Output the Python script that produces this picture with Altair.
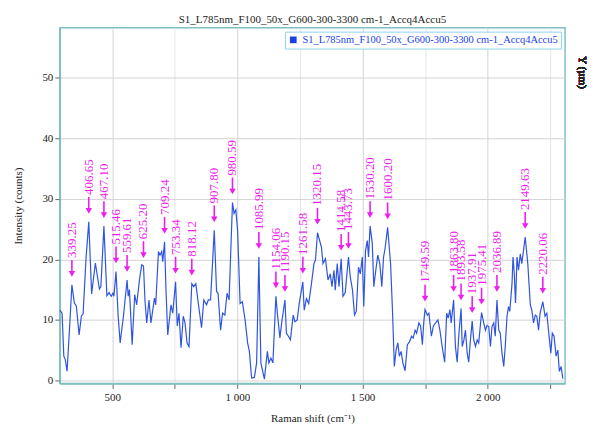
import altair as alt
import pandas as pd

# ---------------- data ----------------
shift = [291, 300, 307, 313, 320, 331, 339.25, 349, 357, 368, 377, 384, 396, 406.65, 418, 433, 449, 455, 467.1,
         479, 488, 496, 503, 507, 515.46, 524, 532, 545, 559.61, 564, 569, 580, 590, 598, 609, 618, 625.2, 631,
         638, 647, 655, 669, 674, 685, 691, 698, 702, 709.24, 715, 722, 735, 742, 753.34, 760, 767, 775, 784,
         791, 799, 807, 818.12, 826, 834, 844, 857, 866, 877, 884, 893, 907.8, 917, 923, 933, 941, 950, 959,
         967, 980.59, 987, 994, 1001, 1011, 1020, 1031, 1041, 1048, 1057, 1068, 1077, 1085.99, 1094, 1108,
         1120, 1126, 1134, 1142, 1154.06, 1161, 1170, 1177, 1190.15, 1196, 1204, 1212, 1223, 1230, 1239, 1247,
         1261.58, 1267, 1276, 1285, 1296, 1306, 1312, 1320.15, 1336, 1342, 1352, 1362, 1371, 1378, 1386, 1391,
         1399, 1406, 1414.58, 1422, 1431, 1443.73, 1451, 1460, 1468, 1475, 1484, 1491, 1499, 1505, 1512, 1519,
         1524, 1530.2, 1539, 1545, 1553, 1561, 1569, 1577, 1584, 1590, 1600.2, 1612, 1620, 1627, 1634, 1641,
         1647, 1654, 1661, 1670, 1679, 1688, 1696, 1702, 1710, 1716, 1725, 1732, 1739, 1745, 1749.59, 1759,
         1765, 1775, 1783, 1792, 1801, 1809, 1818, 1828, 1836, 1842, 1849, 1854, 1863.8, 1871, 1878, 1885,
         1893.58, 1898, 1905, 1911, 1918, 1924, 1931, 1937.91, 1944, 1951, 1958, 1964, 1975.41, 1984, 1991,
         1997, 2004, 2011, 2017, 2024, 2030, 2036.89, 2044, 2050, 2057, 2064, 2070, 2077, 2083, 2088, 2097,
         2101, 2106, 2111, 2117, 2123, 2130, 2136, 2143, 2149.63, 2160, 2170, 2176, 2183, 2190, 2196, 2203,
         2209, 2220.06, 2229, 2236, 2245, 2252, 2258, 2265, 2273, 2280, 2286, 2293, 2300]
intensity = [11.6, 11.1, 4.0, 3.4, 1.5, 9.5, 15.8, 12.8, 12.3, 7.5, 10.6, 11.0, 20.4, 26.2, 14.3, 19.4, 15.1, 15.5, 25.5,
             14.0, 14.5, 13.9, 14.4, 13.9, 18.0, 10.6, 6.2, 10.6, 16.6, 13.9, 15.0, 5.9, 14.2, 12.5, 16.6, 19.1, 18.9, 13.3,
             9.5, 13.3, 9.5, 13.6, 12.5, 21.3, 20.7, 21.3, 19.6, 22.9, 15.0, 7.5, 12.5, 11.1, 16.3, 9.0, 11.1, 5.4, 10.6,
             9.5, 6.2, 5.6, 16.0, 15.5, 16.0, 12.8, 8.7, 13.3, 12.5, 13.3, 13.3, 24.8, 14.7, 14.4, 8.3, 11.1, 10.8, 14.4,
             13.3, 29.4, 27.6, 28.2, 24.8, 12.7, 13.0, 10.0, 6.2, 4.8, 0.4, 0.5, 2.9, 20.4, 2.9, 0.2,
             4.8, 2.9, 3.7, 2.9, 13.9, 10.6, 7.0, 9.5, 13.3, 7.8, 7.3, 6.7, 10.8, 9.7, 10.0, 12.7,
             16.3, 11.6, 13.5, 12.7, 16.0, 19.3, 19.9, 24.4, 22.0, 19.3, 20.1, 16.6, 17.6, 15.5, 18.2, 14.9,
             19.3, 15.5, 20.1, 13.9, 14.5, 20.4, 17.1, 14.9, 10.8, 11.4, 18.7, 17.6, 20.4, 12.2, 21.5, 23.1,
             20.4, 25.5, 22.6, 15.5, 18.2, 20.7, 19.3, 15.5, 20.4, 21.8, 25.3, 19.3, 11.1, 2.3, 5.0, 6.2,
             4.0, 4.8, 2.9, 1.6, 5.9, 6.4, 7.3, 7.0, 8.3, 7.8, 9.5, 9.0, 5.9, 9.8, 11.7, 10.8,
             11.1, 7.3, 9.0, 9.5, 10.0, 8.3, 5.6, 3.0, 11.1, 10.3, 11.7, 9.5, 13.3, 5.6, 3.0, 7.8,
             11.9, 5.6, 6.7, 8.3, 4.5, 3.0, 6.7, 9.8, 6.7, 5.6, 6.7, 6.2, 11.2, 9.5, 8.3,
             9.1, 8.9, 5.6, 8.9, 9.5, 7.3, 13.3, 8.3, 7.8, 4.5, 2.3, 5.6, 10.6, 12.2, 11.4, 16.0,
             20.4, 17.7, 12.8, 20.4, 18.2, 20.9, 19.3, 21.5, 23.7, 19.3, 12.5, 11.6, 9.5, 10.8, 10.6, 8.3,
             11.1, 13.0, 10.6, 11.1, 7.3, 4.5, 7.8, 7.3, 4.0, 5.0, 1.5, 2.3, 0.3]

peak_shift = [339.25, 406.65, 467.10, 515.46, 559.61, 625.20, 709.24, 753.34, 818.12, 907.80, 980.59,
              1085.99, 1154.06, 1190.15, 1261.58, 1320.15, 1414.58, 1443.73, 1530.20, 1600.20, 1749.59,
              1863.80, 1893.58, 1937.91, 1975.41, 2036.89, 2149.63, 2220.06]
peak_intensity = [15.8, 26.2, 25.5, 18.0, 16.6, 18.9, 22.9, 16.3, 16.0, 24.8, 29.4,
                  20.4, 13.9, 13.3, 16.3, 24.4, 20.1, 20.4, 25.5, 25.3, 11.7,
                  13.3, 11.9, 9.8, 11.2, 13.3, 23.7, 13.0]
peak_label = ["339.25", "406.65", "467.10", "515.46", "559.61", "625.20", "709.24", "753.34", "818.12",
              "907.80", "980.59", "1085.99", "1154.06", "1190.15", "1261.58", "1320.15", "1414.58",
              "1443.73", "1530.20", "1600.20", "1749.59", "1863.80", "1893.58", "1937.91", "1975.41",
              "2036.89", "2149.63", "2220.06"]

series_name = "S1_L785nm_F100_50x_G600-300-3300 cm-1_Accq4Accu5"
x_ticks = [500, 750, 1000, 1250, 1500, 1750, 2000, 2250]
y_ticks = [0, 5, 10, 15, 20, 25, 30, 35, 40, 45, 50, 55]

# ---------------- chart ----------------
FONT = "Liberation Serif"
MAG = "#ee1fee"
BLUE = "#2f55e0"
W, H = 507, 357

spec = pd.DataFrame({"shift": shift, "intensity": intensity, "series": series_name})
peaks = pd.DataFrame({"shift": peak_shift, "intensity": peak_intensity, "label": peak_label})

xscale = alt.Scale(domain=[291, 2309], nice=False, zero=False)
yscale = alt.Scale(domain=[-0.5, 58.3], nice=False, zero=False)

xaxis = alt.Axis(
    title="Raman shift (cm⁻¹)", values=x_ticks,
    labelExpr="datum.value % 500 == 0 ? replace(format(datum.value, ','), ',', ' ') : ''",
    grid=True,
    gridColor={"condition": {"test": "datum.value % 500 == 0", "value": "#d4d4d4"}, "value": "#e6e6e6"},
    domainColor="#7fbfbf", domainWidth=1.5, tickColor="#666666", tickSize=5,
    labelFont=FONT, labelFontSize=11, labelColor="#222222", labelPadding=3,
    titleFont=FONT, titleFontSize=11, titleFontWeight="normal", titleColor="#222222", titlePadding=10,
)
yaxis = alt.Axis(
    title="Intensity (counts)", values=y_ticks,
    labelExpr="datum.value % 10 == 0 ? datum.label : ''",
    grid=True,
    gridColor={"condition": {"test": "datum.value % 10 == 0", "value": "#d4d4d4"}, "value": "#e8e8e8"},
    domainColor="#7fbfbf", domainWidth=1.5, tickColor="#666666", tickSize=5,
    labelFont=FONT, labelFontSize=11, labelColor="#222222", labelPadding=2,
    titleFont=FONT, titleFontSize=11, titleFontWeight="normal", titleColor="#222222", titlePadding=18,
)

line = alt.Chart(spec).mark_line(strokeWidth=1.2).encode(
    x=alt.X("shift:Q", scale=xscale, axis=xaxis),
    y=alt.Y("intensity:Q", scale=yscale, axis=yaxis),
    color=alt.Color(
        "series:N", scale=alt.Scale(range=[BLUE]),
        legend=alt.Legend(
            title=None, orient="top-right", offset=4, padding=3,
            symbolType="square", symbolFillColor="#1a3fe8", symbolStrokeWidth=0, symbolSize=45,
            labelColor="#1a3fe8", labelFont=FONT, labelFontSize=10.5, labelLimit=500,
            strokeColor="#8fd3f0", fillColor="white",
        ),
    ),
)

shaft = alt.Chart(peaks).mark_rule(color=MAG, strokeWidth=1.6, yOffset=-25, y2Offset=-13).encode(
    x="shift:Q", y="intensity:Q", y2="intensity:Q"
)
head = alt.Chart(peaks).mark_point(shape="triangle-down", filled=True, size=42, color=MAG,
                                   opacity=1, yOffset=-11).encode(
    x="shift:Q", y="intensity:Q"
)
labels = alt.Chart(peaks).mark_text(angle=270, align="left", baseline="middle", yOffset=-27,
                                    font=FONT, fontSize=13, color=MAG).encode(
    x="shift:Q", y="intensity:Q", text="label:N"
)
right_title = alt.Chart(peaks).mark_text(angle=90, align="center", baseline="middle", font=FONT,
                                         fontSize=11, color="#222222").encode(
    x=alt.value(W + 17), y=alt.value(45), text=alt.value("Y (µm)")
)

chart = alt.layer(line, shaft, head, labels, right_title).properties(
    width=W, height=H,
    title=alt.TitleParams(series_name, font=FONT, fontSize=11, fontWeight="normal",
                          color="#222222", offset=3, anchor="middle"),
).configure_view(stroke="#7fc0c0", strokeWidth=1.5)

chart.save("out.html", embed_options={"renderer": "svg", "actions": False})
